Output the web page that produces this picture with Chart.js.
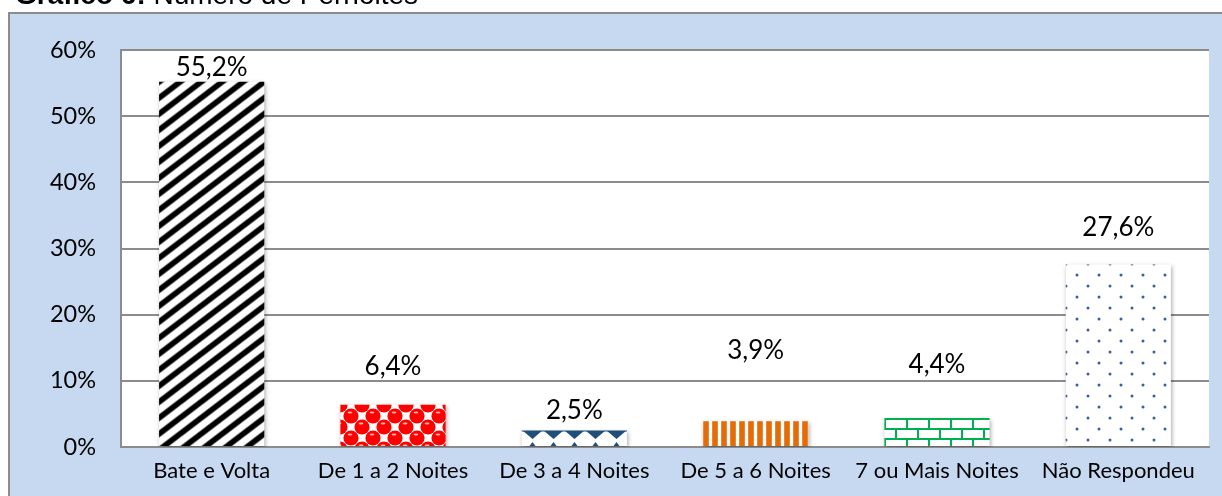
<!DOCTYPE html>
<html>
<head>
<meta charset="utf-8">
<script src="https://cdn.jsdelivr.net/npm/chart.js@4"></script>
<style>
  body { margin: 0; background: #fff; }
  #wrap { position: relative; width: 1222px; height: 496px; overflow: hidden; }
  #title { position: absolute; left: 15px; top: -19px; font: 28px "Liberation Sans", Arial, sans-serif; line-height: 28px; color: #000; white-space: nowrap; z-index: 2; }
</style>
</head>
<body>
<div id="wrap">
  <div id="title"><b>Gráfico 6:</b> Número de Pernoites</div>
  <canvas id="myChart" width="1222" height="496"></canvas>
</div>
<script>
const categories = ['Bate e Volta', 'De 1 a 2 Noites', 'De 3 a 4 Noites', 'De 5 a 6 Noites', '7 ou Mais Noites', 'Não Respondeu'];
const percents = [55.2, 6.4, 2.5, 3.9, 4.4, 27.6];
const yTicks = [0, 10, 20, 30, 40, 50, 60];
// how far above the bar top each value label sits (px), as placed in the original
const labelLift = [14, 38, 20, 71, 53, 37];

function tile(w, h, paint) {
  const c = document.createElement('canvas');
  c.width = w; c.height = h;
  const g = c.getContext('2d');
  g.fillStyle = '#fff';
  g.fillRect(0, 0, w, h);
  paint(g, w, h);
  return c.getContext('2d').createPattern(c, 'repeat');
}

const patterns = [
  // black wide upward diagonal
  tile(21, 16, (g, w, h) => {
    const stripe = (width, color) => {
      g.strokeStyle = color;
      g.lineWidth = width;
      g.beginPath();
      for (let x0 = -w; x0 <= w; x0 += w) {
        g.moveTo(x0 - w, 2 * h); g.lineTo(x0 + 2 * w, -h);
      }
      g.stroke();
    };
    stripe(6.5, '#777');
    stripe(4.8, '#000');
  }),
  // red spheres
  tile(22, 22, g => {
    const pts = [[0, 0], [22, 0], [0, 22], [22, 22], [11, 11]];
    pts.forEach(([x, y]) => {
      g.fillStyle = '#ff0000';
      g.beginPath(); g.arc(x, y, 7.6, 0, Math.PI * 2); g.fill();
    });
    pts.forEach(([x, y]) => {
      g.fillStyle = 'rgba(255,200,200,0.9)';
      g.beginPath(); g.ellipse(x - 1, y - 3.5, 2.4, 1, 0, 0, Math.PI * 2); g.fill();
    });
  }),
  // navy triangles
  tile(21, 18, g => {
    g.fillStyle = '#1f4e79';
    g.fillRect(0, 0, 21, 1.5);
    g.beginPath(); g.moveTo(0, 0); g.lineTo(21, 0); g.lineTo(10.5, 9); g.closePath(); g.fill();
    g.beginPath(); g.moveTo(10.5, 12); g.lineTo(6, 18); g.lineTo(15, 18); g.closePath(); g.fill();
  }),
  // orange vertical stripes
  tile(9, 4, g => {
    g.fillStyle = '#f5a15a';
    g.fillRect(0, 0, 6, 4);
    g.fillStyle = '#e36c09';
    g.fillRect(0.5, 0, 5, 4);
  }),
  // green bricks
  tile(22, 20, g => {
    g.fillStyle = '#00b050';
    g.fillRect(0, 0, 22, 2);
    g.fillRect(0, 10, 22, 2);
    g.fillRect(0, 0, 2, 10);
    g.fillRect(11, 10, 2, 10);
  }),
  // blue dots
  tile(22, 22, g => {
    g.fillStyle = '#3a5f9a';
    [[0, 0], [22, 0], [0, 22], [22, 22], [11, 11]].forEach(([x, y]) => {
      g.beginPath(); g.arc(x, y, 1.5, 0, Math.PI * 2); g.fill();
    });
  })
];

const frame = {
  id: 'frame',
  beforeDraw(chart) {
    const { ctx, chartArea: a } = chart;
    ctx.save();
    ctx.fillStyle = '#fff';
    ctx.fillRect(0, 0, chart.width, chart.height);
    ctx.fillStyle = '#c6d9f1';
    ctx.fillRect(8, 12, chart.width - 8, chart.height - 12);
    ctx.strokeStyle = '#8c8c8c';
    ctx.lineWidth = 2;
    ctx.beginPath();
    ctx.moveTo(9, chart.height); ctx.lineTo(9, 13); ctx.lineTo(chart.width, 13);
    ctx.stroke();
    ctx.fillStyle = '#fff';
    ctx.fillRect(a.left, a.top, a.right - a.left, a.bottom - a.top);
    ctx.restore();
  },
  beforeDatasetsDraw(chart) {
    const ctx = chart.ctx;
    chart.getDatasetMeta(0).data.forEach((bar, i) => {
      const p = patterns[i];
      if (p.setTransform) p.setTransform(new DOMMatrix().translate(Math.round(bar.x - bar.width / 2), Math.round(bar.y)));
    });
    ctx.save();
    ctx.shadowColor = 'rgba(0,0,0,0.35)';
    ctx.shadowBlur = 4;
    ctx.shadowOffsetX = 1;
    ctx.shadowOffsetY = 2;
  },
  afterDatasetsDraw(chart) {
    const ctx = chart.ctx;
    ctx.restore();
    ctx.save();
    ctx.font = '26px Lato';
    ctx.fillStyle = '#000';
    ctx.textAlign = 'center';
    ctx.textBaseline = 'middle';
    chart.getDatasetMeta(0).data.forEach((bar, i) => {
      const txt = percents[i].toFixed(1).replace('.', ',') + '%';
      ctx.fillText(txt, bar.x, bar.y - labelLift[i]);
    });
    ctx.restore();
  }
};

const ctx = document.getElementById('myChart').getContext('2d');
const chart = new Chart(ctx, {
  type: 'bar',
  data: {
    labels: categories,
    datasets: [{
      data: percents,
      backgroundColor: patterns,
      borderWidth: 0,
      categoryPercentage: 1,
      barPercentage: 0.58
    }]
  },
  options: {
    responsive: false,
    animation: false,
    events: [],
    layout: { padding: { left: 0, top: 50, right: 13, bottom: 0 } },
    plugins: { legend: { display: false }, tooltip: { enabled: false } },
    scales: {
      x: {
        grid: { display: false, drawTicks: false },
        border: { display: true, color: '#8c8c8c', width: 2 },
        ticks: { color: '#000', font: { family: 'Lato', size: 22 }, padding: 11, maxRotation: 0 },
        afterFit: s => { s.height = 49; }
      },
      y: {
        min: yTicks[0],
        max: yTicks[yTicks.length - 1],
        afterBuildTicks: s => { s.ticks = yTicks.map(v => ({ value: v })); },
        grid: { color: '#8c8c8c', lineWidth: 2, drawTicks: false },
        border: { display: true, color: '#8c8c8c', width: 2 },
        ticks: { color: '#000', font: { family: 'Lato', size: 23.5 }, padding: 25, callback: v => v + '%' },
        afterFit: s => { s.width = 121; }
      }
    }
  },
  plugins: [frame]
});
</script>
</body>
</html>
